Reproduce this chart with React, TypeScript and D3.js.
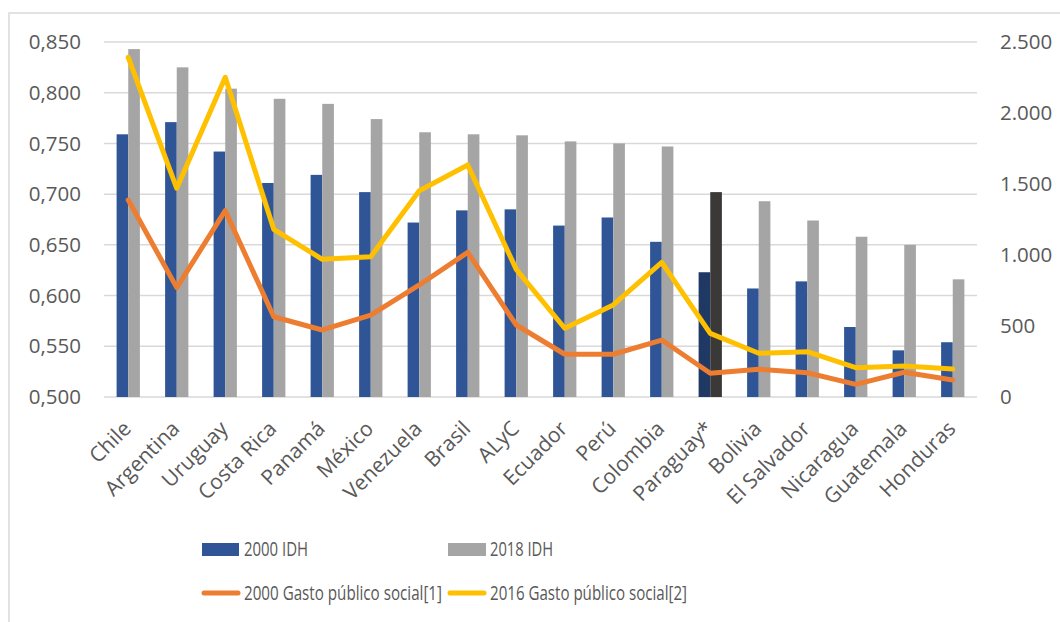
import React from "react";
import * as d3 from "d3";

const categories = ["Chile","Argentina","Uruguay","Costa Rica","Panamá","México","Venezuela","Brasil","ALyC","Ecuador","Perú","Colombia","Paraguay*","Bolivia","El Salvador","Nicaragua","Guatemala","Honduras"];
const idh2000 = [0.759,0.771,0.742,0.711,0.719,0.702,0.672,0.684,0.685,0.669,0.677,0.653,0.623,0.607,0.614,0.569,0.546,0.554];
const idh2018 = [0.843,0.825,0.804,0.794,0.789,0.774,0.761,0.759,0.758,0.752,0.750,0.747,0.702,0.693,0.674,0.658,0.650,0.616];
const gasto2000 = [1387,770,1312,565,472,577,789,1019,507,301,301,401,167,195,171,89,174,120];
const gasto2016 = [2392,1470,2251,1181,970,988,1453,1634,899,484,648,948,448,308,319,206,218,197];
const leftTicks = [0.5,0.55,0.6,0.65,0.7,0.75,0.8,0.85];
const rightTicks = [0,500,1000,1500,2000,2500];
const highlight = "Paraguay*";

const W = 1060, H = 622;
const M = { left: 104, right: 977, top: 42, bottom: 397 };
const FONT = "'Open Sans', sans-serif";
const TXT = "#595959";

export default function App() {
  const x = d3.scaleBand().domain(categories).range([M.left, M.right]).paddingInner(0).paddingOuter(0);
  const yL = d3.scaleLinear().domain([0.5, 0.85]).range([M.bottom, M.top]);
  const yR = d3.scaleLinear().domain([0, 2500]).range([M.bottom, M.top]);
  const bw = x.bandwidth() * 0.24;
  const cx = (c: string) => (x(c) as number) + x.bandwidth() / 2;
  const line = (vals: number[]) =>
    d3.line<number>().x((_, i) => cx(categories[i])).y(v => yR(v))(vals) as string;
  const fmtL = (v: number) => d3.format(".3f")(v).replace(".", ",");
  const fmtR = (v: number) => d3.format(",")(v).replace(/,/g, ".");

  return (
    <svg width={W} height={H} style={{ position: "absolute", left: 0, top: 0, background: "#fff" }}>
      <rect x={9} y={13} width={W} height={H} fill="#fff" stroke="#D9D9D9" strokeWidth={1.5} />
      {leftTicks.map(t => (
        <line key={"g" + t} x1={M.left} x2={M.right} y1={yL(t)} y2={yL(t)} stroke="#D9D9D9" strokeWidth={1.5} />
      ))}
      {leftTicks.map(t => (
        <text key={"l" + t} x={81} y={yL(t)} dy="0.35em" textAnchor="end" fontFamily={FONT} fontSize={20.5} fill={TXT}>{fmtL(t)}</text>
      ))}
      {rightTicks.map(t => (
        <text key={"r" + t} x={1000} y={yR(t)} dy="0.35em" textAnchor="start" fontFamily={FONT} fontSize={20.5} fill={TXT}>{fmtR(t)}</text>
      ))}
      {categories.map((c, i) => (
        <g key={c}>
          <rect x={cx(c) - bw} y={yL(idh2000[i])} width={bw} height={M.bottom - yL(idh2000[i])} fill={c === highlight ? "#203864" : "#2F5597"} />
          <rect x={cx(c)} y={yL(idh2018[i])} width={bw} height={M.bottom - yL(idh2018[i])} fill={c === highlight ? "#3B3838" : "#A5A5A5"} />
        </g>
      ))}
      <path d={line(gasto2000)} fill="none" stroke="#ED7D31" strokeWidth={5} strokeLinejoin="round" strokeLinecap="round" />
      <path d={line(gasto2016)} fill="none" stroke="#FFC000" strokeWidth={5} strokeLinejoin="round" strokeLinecap="round" />
      {categories.map(c => (
        <text key={"x" + c} transform={`translate(${cx(c) + 4},${430}) rotate(-45)`} textAnchor="end" fontFamily={FONT} fontSize={21} fill={TXT}>{c}</text>
      ))}
      <g fontFamily={FONT} fontSize={20} fill={TXT}>
        <rect x={202} y={543} width={37} height={13} fill="#2F5597" />
        <text x={244} y={549} dy="0.35em" textLength={64} lengthAdjust="spacingAndGlyphs">2000 IDH</text>
        <rect x={448} y={543} width={38} height={13} fill="#A5A5A5" />
        <text x={490} y={549} dy="0.35em" textLength={63} lengthAdjust="spacingAndGlyphs">2018 IDH</text>
        <line x1={204} x2={238} y1={593} y2={593} stroke="#ED7D31" strokeWidth={5} strokeLinecap="round" />
        <text x={244} y={593} dy="0.35em" textLength={198} lengthAdjust="spacingAndGlyphs">2000 Gasto público social[1]</text>
        <line x1={450} x2={484} y1={593} y2={593} stroke="#FFC000" strokeWidth={5} strokeLinecap="round" />
        <text x={490} y={593} dy="0.35em" textLength={197} lengthAdjust="spacingAndGlyphs">2016 Gasto público social[2]</text>
      </g>
    </svg>
  );
}
